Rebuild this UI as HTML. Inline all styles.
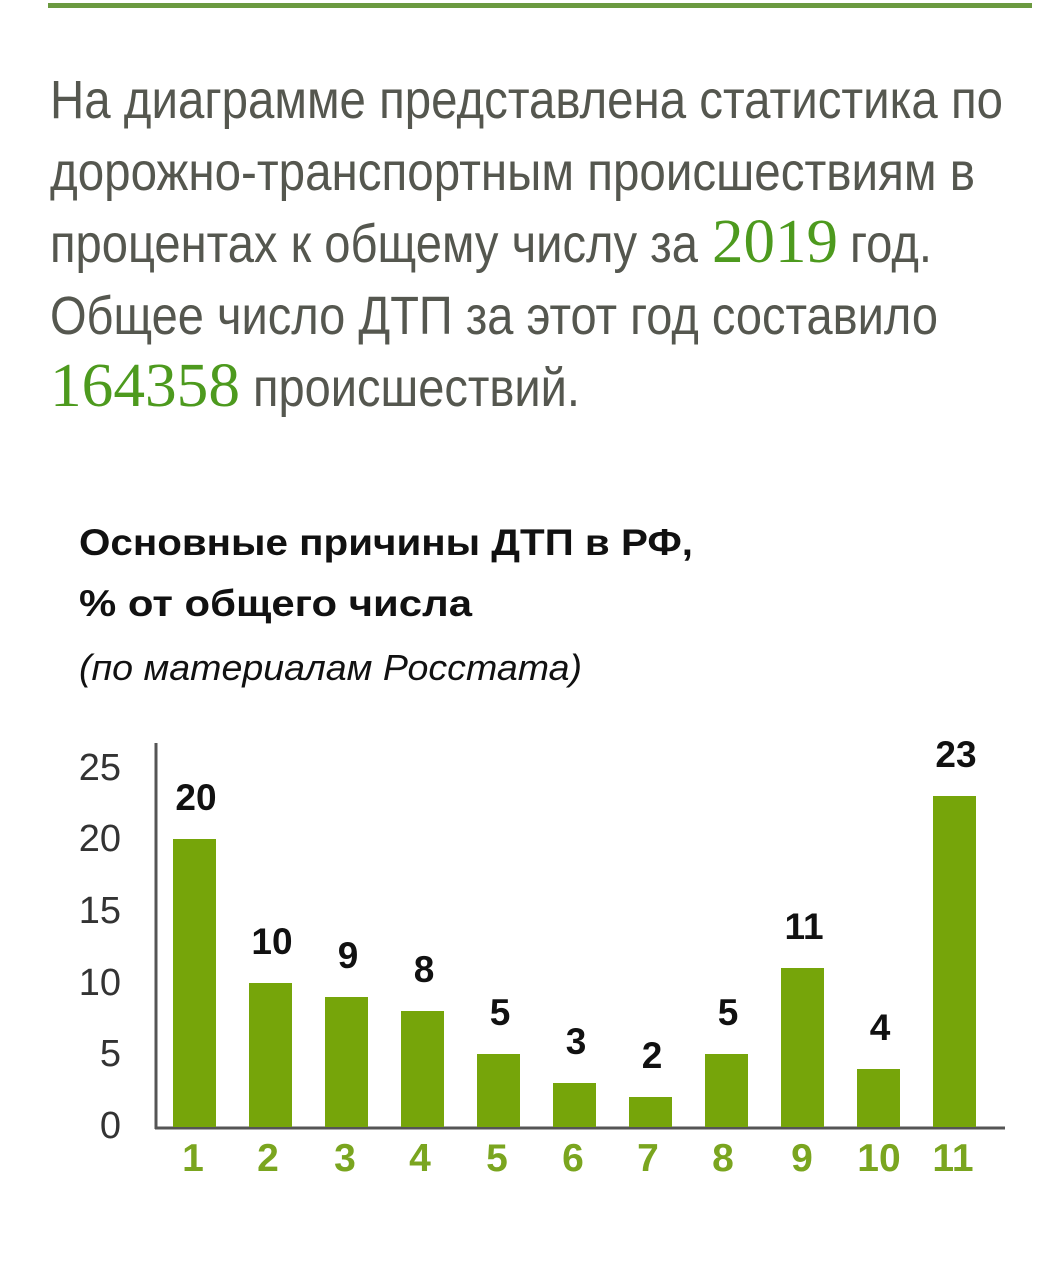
<!DOCTYPE html>
<html><head><meta charset="utf-8"><style>
body{margin:0;width:1044px;height:1276px;background:#fff;position:relative;overflow:hidden}
</style></head><body>
<div style="position:absolute;left:48px;top:3px;width:984px;height:5px;background:#6b9a40"></div>
<svg width="1044" height="1276" style="position:absolute;left:0;top:0">
<g font-family="Liberation Sans,sans-serif" font-size="54" fill="#55574f" lengthAdjust="spacingAndGlyphs">
<text x="50" y="118" textLength="953" lengthAdjust="spacingAndGlyphs">На диаграмме представлена статистика по</text>
<text x="50" y="190" textLength="925" lengthAdjust="spacingAndGlyphs">дорожно-транспортным происшествиям в</text>
<text x="50" y="262" textLength="648" lengthAdjust="spacingAndGlyphs">процентах к общему числу за</text>
<text x="850" y="262" textLength="82" lengthAdjust="spacingAndGlyphs">год.</text>
<text x="50" y="334" textLength="888" lengthAdjust="spacingAndGlyphs">Общее число ДТП за этот год составило</text>
<text x="253" y="406" textLength="327" lengthAdjust="spacingAndGlyphs">происшествий.</text>
</g>
<g font-family="Liberation Serif,serif" font-size="62" fill="#4d9a1e">
<text x="712" y="262" textLength="126" lengthAdjust="spacingAndGlyphs">2019</text>
<text x="50" y="406" textLength="190" lengthAdjust="spacingAndGlyphs">164358</text>
</g>
<g font-family="Liberation Sans,sans-serif" fill="#111">
<text x="79" y="555" font-size="37" font-weight="bold" textLength="614" lengthAdjust="spacingAndGlyphs">Основные причины ДТП в РФ,</text>
<text x="79" y="616" font-size="37" font-weight="bold" textLength="393" lengthAdjust="spacingAndGlyphs">% от общего числа</text>
<text x="79" y="680" font-size="36" font-style="italic" textLength="503" lengthAdjust="spacingAndGlyphs">(по материалам Росстата)</text>
</g>
<g font-family="Liberation Sans,sans-serif">
<line x1="156" y1="743" x2="156" y2="1129" stroke="#555" stroke-width="3"/>
<line x1="155" y1="1128" x2="1005" y2="1128" stroke="#555" stroke-width="3"/>
<g font-size="38" fill="#333" text-anchor="end">
<text x="121" y="780">25</text><text x="121" y="851">20</text><text x="121" y="923">15</text>
<text x="121" y="995">10</text><text x="121" y="1066">5</text><text x="121" y="1138">0</text>
</g>
<g fill="#76a50a">
<rect x="173" y="839" width="43" height="288"/>
<rect x="249" y="983" width="43" height="144"/>
<rect x="325" y="997" width="43" height="130"/>
<rect x="401" y="1011" width="43" height="116"/>
<rect x="477" y="1054" width="43" height="73"/>
<rect x="553" y="1083" width="43" height="44"/>
<rect x="629" y="1097" width="43" height="30"/>
<rect x="705" y="1054" width="43" height="73"/>
<rect x="781" y="968" width="43" height="159"/>
<rect x="857" y="1069" width="43" height="58"/>
<rect x="933" y="796" width="43" height="331"/>
</g>
<g font-size="37" font-weight="bold" fill="#111" text-anchor="middle">
<text x="196" y="810">20</text><text x="272" y="954">10</text><text x="348" y="968">9</text>
<text x="424" y="982">8</text><text x="500" y="1025">5</text><text x="576" y="1054">3</text>
<text x="652" y="1068">2</text><text x="728" y="1025">5</text><text x="804" y="939">11</text>
<text x="880" y="1040">4</text><text x="956" y="767">23</text>
</g>
<g font-size="39" font-weight="bold" fill="#7aa51f" text-anchor="middle">
<text x="193" y="1171">1</text><text x="268" y="1171">2</text><text x="345" y="1171">3</text>
<text x="420" y="1171">4</text><text x="497" y="1171">5</text><text x="573" y="1171">6</text>
<text x="648" y="1171">7</text><text x="723" y="1171">8</text><text x="802" y="1171">9</text>
<text x="879" y="1171">10</text><text x="953" y="1171">11</text>
</g>
</g>
</svg>
</body></html>
